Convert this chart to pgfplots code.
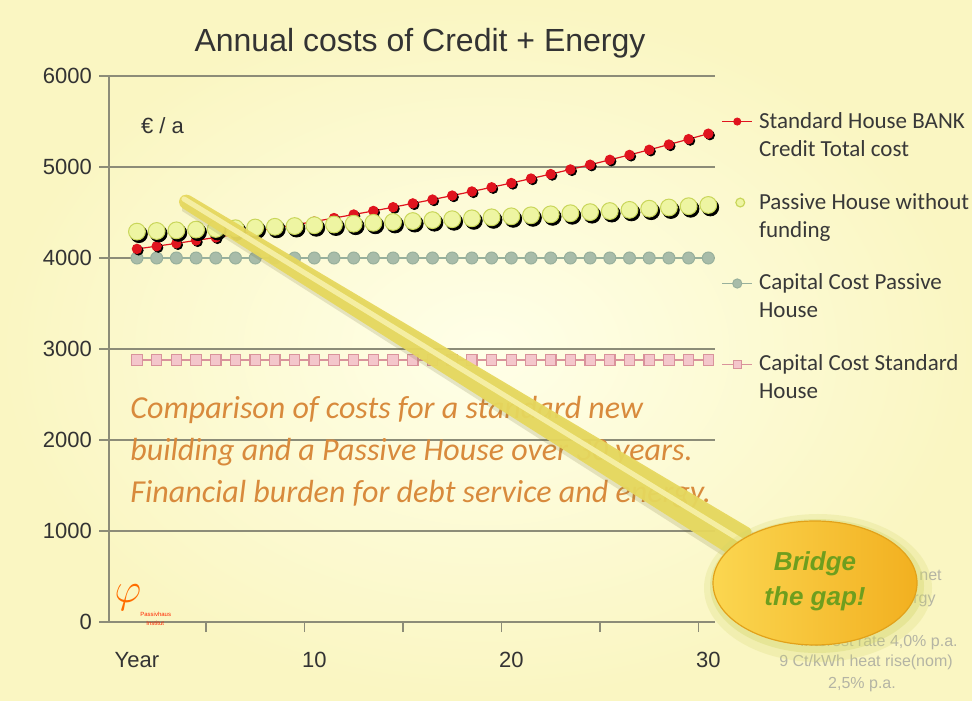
\documentclass[border=0pt]{standalone}
\usepackage{fontspec}
\setmainfont{Liberation Sans}
\newfontfamily\calfont{Carlito}
\usepackage{pgfplots}
\usepackage{pgfplotstable}
\pgfplotsset{compat=1.18}
\definecolor{bgin}{HTML}{FFFFE8}
\definecolor{bgout}{HTML}{FAF6C2}
\definecolor{gridc}{HTML}{8C8C78}
\definecolor{labc}{HTML}{333333}
\definecolor{legc}{HTML}{383838}
\definecolor{redc}{HTML}{E0141E}
\definecolor{yelf}{HTML}{EEF5A2}
\definecolor{yele}{HTML}{C9D65A}
\definecolor{greyf}{HTML}{A8BCA9}
\definecolor{greyl}{HTML}{98B09C}
\definecolor{pinkf}{HTML}{F4C6CB}
\definecolor{pinke}{HTML}{D9939B}
\definecolor{orangetxt}{HTML}{D88A3C}
\definecolor{bandc}{HTML}{E6D85E}
\definecolor{bandl}{HTML}{F7F1AA}
\definecolor{bubtop}{HTML}{FBD650}
\definecolor{bubbot}{HTML}{F2B020}
\definecolor{bubedge}{HTML}{E2A21A}
\definecolor{glow}{HTML}{D2D66A}
\definecolor{gapgreen}{HTML}{6E9E1E}
\definecolor{faint}{HTML}{B4B4A4}

\pgfplotstableread{
year red yellow grey pink
1 4100 4290 4000 2880
2 4130 4297 4000 2880
3 4161 4304 4000 2880
4 4193 4312 4000 2880
5 4226 4319 4000 2880
6 4259 4327 4000 2880
7 4293 4335 4000 2880
8 4328 4343 4000 2880
9 4364 4351 4000 2880
10 4401 4360 4000 2880
11 4439 4368 4000 2880
12 4478 4377 4000 2880
13 4517 4387 4000 2880
14 4558 4396 4000 2880
15 4600 4406 4000 2880
16 4642 4416 4000 2880
17 4686 4426 4000 2880
18 4731 4436 4000 2880
19 4777 4447 4000 2880
20 4824 4458 4000 2880
21 4873 4469 4000 2880
22 4922 4480 4000 2880
23 4973 4492 4000 2880
24 5025 4504 4000 2880
25 5079 4516 4000 2880
26 5133 4529 4000 2880
27 5189 4542 4000 2880
28 5247 4555 4000 2880
29 5306 4569 4000 2880
30 5366 4583 4000 2880
}\costdata

\begin{document}
\begin{tikzpicture}
\useasboundingbox (0,0) rectangle (486pt,350pt);
\shade[inner color=bgin, outer color=bgout] (0,0) rectangle (486pt,350pt);
\begin{axis}[
  at={(54.5pt,39pt)}, anchor=south west,
  scale only axis, width=303pt, height=273pt,
  xmin=-0.42, xmax=30.34, ymin=0, ymax=6000,
  axis x line*=bottom, axis y line*=left,
  axis line style={gridc, line width=0.8pt},
  ytick={0,1000,...,6000},
  ymajorgrids, grid style={gridc, line width=0.8pt},
  xtick={4.5,9.5,...,29.5}, xticklabels={,,,,,},
  extra x ticks={1,10,20,30}, extra x tick labels={Year,10,20,30},
  extra x tick style={major tick length=0pt, grid=none},
  tick align=outside, major tick length=5pt,
  tick style={gridc, line width=0.8pt},
  /pgf/number format/assume math mode=true,
  /pgf/number format/1000 sep={},
  ticklabel style={font=\fontsize{11}{13}\selectfont, text=labc},
  xticklabel style={yshift=-11.5pt},
  yticklabel style={xshift=0pt},
  clip=false,
  legend cell align=left,
  legend style={at={(1.01,0.942)}, anchor=north west, draw=none, fill=none,
    font=\calfont\fontsize{11.5}{14}\selectfont, text=legc,
    nodes={align=left}, row sep=13pt, column sep=1pt, inner sep=0pt},
]
\addplot[forget plot, pinke, line width=0.8pt, mark=square*, mark size=2.6pt,
  mark options={fill=pinkf, draw=pinke, line width=0.6pt}] table[x=year,y=pink]{\costdata};
\addplot[forget plot, greyl, line width=0.8pt, mark=*, mark size=3pt,
  mark options={fill=greyf, draw=greyl, line width=0.5pt}] table[x=year,y=grey]{\costdata};
\addplot[forget plot, draw=none, mark=*, mark size=2.3pt,
  mark options={fill=black, draw=black, xshift=0.8pt, yshift=-0.8pt}] table[x=year,y=red]{\costdata};
\addplot[forget plot, redc, line width=0.6pt, mark=*, mark size=2.3pt,
  mark options={fill=redc, draw=redc}] table[x=year,y=red]{\costdata};
\addplot[forget plot, draw=none, mark=*, mark size=4.2pt,
  mark options={fill=black, draw=black, xshift=1pt, yshift=-1.3pt}] table[x=year,y=yellow]{\costdata};
\addplot[forget plot, draw=none, mark=*, mark size=4.2pt,
  mark options={fill=yelf, draw=yele, line width=0.5pt}] table[x=year,y=yellow]{\costdata};

\addlegendimage{legend image code/.code={
  \path (0pt,-9pt) (15pt,9pt);
  \draw[redc, line width=0.6pt] (0pt,7pt) -- (15pt,7pt);
  \fill[redc] (7.5pt,7pt) circle (1.8pt);}}
\addlegendentry{Standard House BANK\\Credit Total cost}
\addlegendimage{legend image code/.code={
  \path (0pt,-9pt) (15pt,9pt);
  \draw[yele, fill=yelf, line width=0.6pt] (9pt,7pt) circle (2.2pt);}}
\addlegendentry{Passive House without\\funding}
\addlegendimage{legend image code/.code={
  \path (0pt,-9pt) (15pt,9pt);
  \draw[greyl, line width=0.8pt] (0pt,7pt) -- (15pt,7pt);
  \draw[greyl, fill=greyf, line width=0.5pt] (7.5pt,7pt) circle (2.3pt);}}
\addlegendentry{Capital Cost Passive\\House}
\addlegendimage{legend image code/.code={
  \path (0pt,-9pt) (15pt,9pt);
  \draw[pinke, line width=0.8pt] (0pt,7pt) -- (15pt,7pt);
  \draw[pinke, fill=pinkf, line width=0.5pt] (5.5pt,5pt) rectangle (9.5pt,9pt);}}
\addlegendentry{Capital Cost Standard\\House}
\end{axis}

\begin{scope}[x=0.5pt, y=-0.5pt, yshift=350pt]
  % title and unit
  \node[anchor=base, font=\fontsize{16}{19}\selectfont, text=labc] at (420,52) {Annual costs of Credit + Energy};
  \node[anchor=base west, font=\fontsize{11}{12}\selectfont, text=labc] at (134,134) {€ / a};
  % orange comment text
  \begin{scope}[every node/.style={anchor=base west, inner sep=0pt, font=\calfont\itshape\fontsize{16}{21}\selectfont, text=orangetxt}]
    \node at (130,419) {Comparison of costs for a standard new};
    \node at (130,461) {building and a Passive House over 30 years.};
    \node at (130,503) {Financial burden for debt service and energy.};
  \end{scope}
  % faint notes behind the bubble
  \begin{scope}[every node/.style={inner sep=0pt, font=\fontsize{8}{9}\selectfont, text=faint}]
    \node[anchor=base east] at (942,581) {Credit net};
    \node[anchor=base east] at (936,604) {Energy};
    \node[anchor=base east] at (958,646) {Interest rate 4,0\% p.a.};
    \node[anchor=base] at (866,666) {9 Ct/kWh heat rise(nom)};
    \node[anchor=base] at (862,688) {2,5\% p.a.};
  \end{scope}
  % logo
  \node[font=\fontsize{22}{22}\selectfont, text=orange!85!red] at (128,598) {$\varphi$};
  \node[anchor=west, inner sep=0pt, font=\fontsize{3}{3}\selectfont, text=red!70!orange] at (140,614) {Passivhaus};
  \node[anchor=west, inner sep=0pt, font=\fontsize{3}{3}\selectfont, text=red!70!orange] at (146,623) {Institut};
  % pointer band
  \fill[black!40!olive, opacity=0.16] (182,202) -- (190,198) -- (758,535) -- (739,566) -- (182,211) -- cycle;
  \fill[bandc, opacity=0.95, rounded corners=2pt] (179,197.5) -- (186.5,193.5) -- (753,530) -- (736,559) -- (179,206) -- cycle;
  \draw[bandl, line width=2.6pt, line cap=round, opacity=0.9] (184,199) -- (742,541);
  % bubble
  \fill[glow, opacity=0.22] (818,588) ellipse (114 and 74);
  \fill[glow, opacity=0.35] (817,586) ellipse (107 and 67);
  \shade[left color=bubtop, right color=bubbot, draw=bubedge, line width=0.6pt] (815,583) ellipse (102 and 62);
  \node[anchor=base, inner sep=0pt, font=\bfseries\itshape\fontsize{13}{15}\selectfont, text=gapgreen] at (815,571) {Bridge};
  \node[anchor=base, inner sep=0pt, font=\bfseries\itshape\fontsize{13}{15}\selectfont, text=gapgreen] at (815,606) {the gap!};
\end{scope}
\end{tikzpicture}
\end{document}
